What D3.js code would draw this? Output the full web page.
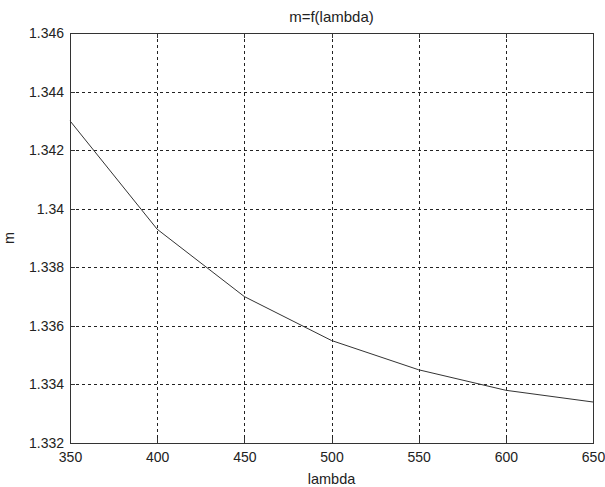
<!DOCTYPE html>
<html>
<head>
<meta charset="utf-8">
<script src="https://cdn.jsdelivr.net/npm/d3@7"></script>
<style>
  body { margin: 0; background: #fff; }
  svg { display: block; }
  svg text { font-family: "Liberation Sans", Arial, sans-serif; font-size: 14px; fill: #222; }
  .grid line { stroke: #222; stroke-dasharray: 3,3; shape-rendering: crispEdges; }
  .axis path, .axis line { stroke: #333; shape-rendering: crispEdges; }
</style>
</head>
<body>
<div id="chart"></div>
<script>
// wavelength (nm) and refractive index
let lambda = [350, 400, 450, 500, 550, 600, 650];
let mValues = [1.3430, 1.3393, 1.3370, 1.3355, 1.3345, 1.3338, 1.3334];
let xTicks = [350, 400, 450, 500, 550, 600, 650];
let yTicks = [1.332, 1.334, 1.336, 1.338, 1.34, 1.342, 1.344, 1.346];

var width = 605,
    height = 487,
    margin = { top: 33, right: 12, bottom: 44, left: 70 };

var x = d3.scaleLinear()
    .domain([350, 650])
    .range([margin.left, width - margin.right]);

var y = d3.scaleLinear()
    .domain([1.332, 1.346])
    .range([height - margin.bottom, margin.top]);

var svg = d3.select('#chart')
    .append('svg')
    .attr('width', width)
    .attr('height', height);

var fmt = function(d) { return String(+d.toFixed(3)); };

// dashed grid
var grid = svg.append('g').attr('class', 'grid');
grid.selectAll('line.v')
    .data(xTicks.slice(1, -1))
    .enter()
    .append('line')
    .attr('x1', function(d) { return Math.round(x(d)) + 0.5; })
    .attr('x2', function(d) { return Math.round(x(d)) + 0.5; })
    .attr('y1', y(1.346))
    .attr('y2', y(1.332));
grid.selectAll('line.h')
    .data(yTicks.slice(1, -1))
    .enter()
    .append('line')
    .attr('y1', function(d) { return Math.round(y(d)) + 0.5; })
    .attr('y2', function(d) { return Math.round(y(d)) + 0.5; })
    .attr('x1', x(350))
    .attr('x2', x(650));

// box axes with inward ticks, MATLAB style
svg.append('g')
    .attr('class', 'axis')
    .attr('transform', 'translate(0,' + y(1.332) + ')')
    .call(d3.axisBottom(x).tickValues(xTicks).tickSize(-5).tickPadding(9).tickSizeOuter(0))
    .selectAll('text').attr('dy', '0.71em');

svg.append('g')
    .attr('class', 'axis')
    .attr('transform', 'translate(0,' + y(1.346) + ')')
    .call(d3.axisTop(x).tickValues(xTicks).tickSize(-5).tickFormat('').tickSizeOuter(0));

svg.append('g')
    .attr('class', 'axis')
    .attr('transform', 'translate(' + x(350) + ',0)')
    .call(d3.axisLeft(y).tickValues(yTicks).tickSize(-5).tickPadding(6).tickFormat(fmt).tickSizeOuter(0));

svg.append('g')
    .attr('class', 'axis')
    .attr('transform', 'translate(' + x(650) + ',0)')
    .call(d3.axisRight(y).tickValues(yTicks).tickSize(-5).tickFormat('').tickSizeOuter(0));

// the curve
var line = d3.line()
    .x(function(d, i) { return x(lambda[i]); })
    .y(function(d) { return y(d); });

svg.append('path')
    .datum(mValues)
    .attr('fill', 'none')
    .attr('stroke', '#333')
    .attr('stroke-width', 1)
    .attr('d', line);

// labels
svg.append('text')
    .attr('x', (x(350) + x(650)) / 2)
    .attr('y', 22)
    .attr('text-anchor', 'middle')
    .style('font-size', '15px')
    .text('m=f(lambda)');

svg.append('text')
    .attr('x', (x(350) + x(650)) / 2)
    .attr('y', 484)
    .attr('text-anchor', 'middle')
    .style('font-size', '14.5px')
    .text('lambda');

svg.append('text')
    .attr('transform', 'translate(14,' + (y(1.332) + y(1.346)) / 2 + ') rotate(-90)')
    .attr('text-anchor', 'middle')
    .style('font-size', '14.5px')
    .text('m');
</script>
</body>
</html>
